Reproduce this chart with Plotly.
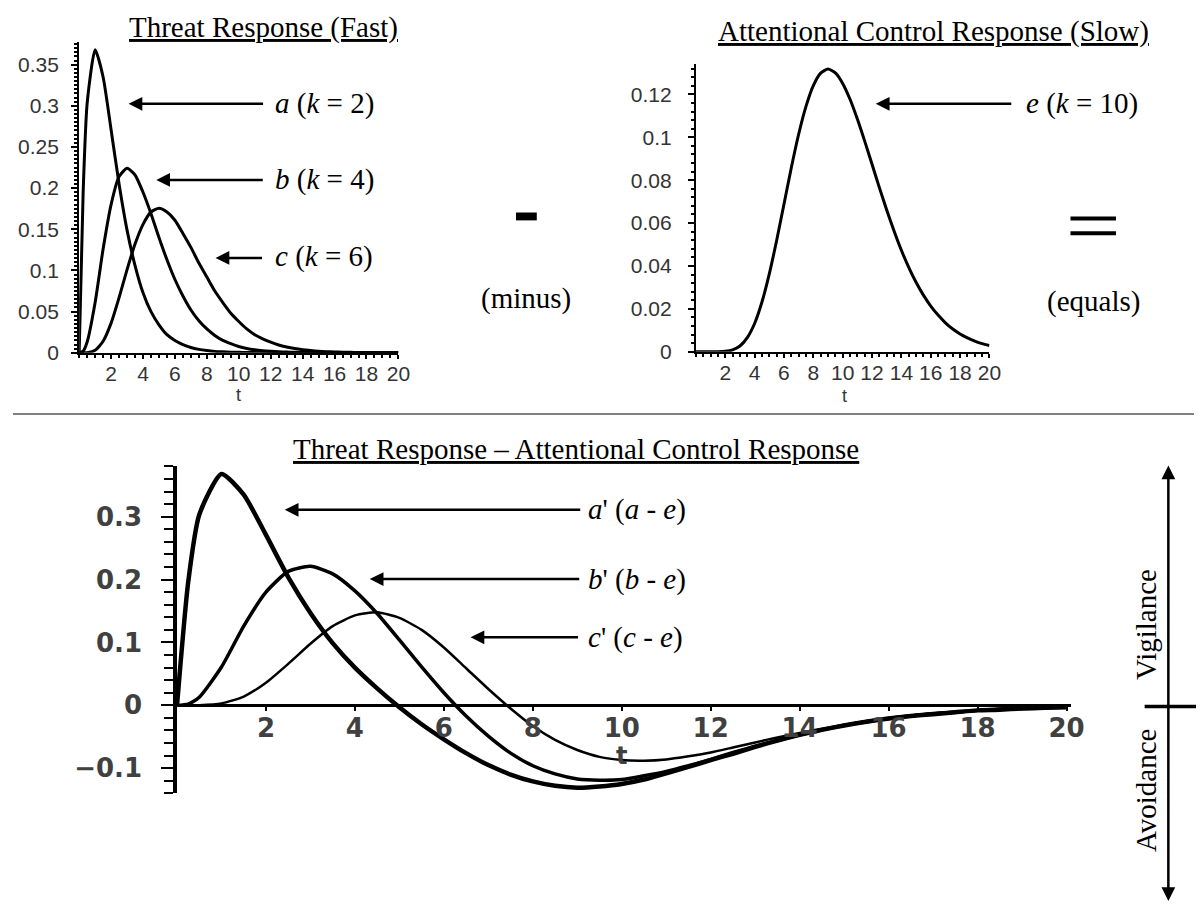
import plotly.graph_objects as go

# ---------------- data ----------------
t = [0, 0.25, 0.5, 1, 1.5, 2, 2.5, 3, 3.5, 4, 4.5, 5, 5.5, 6, 6.5, 7, 7.5, 8, 8.5, 9, 9.5,
     10, 10.5, 11, 11.5, 12, 12.5, 13, 13.5, 14, 14.5, 15, 15.5, 16, 16.5, 17, 17.5, 18,
     18.5, 19, 19.5, 20]

a_k2 = [0, 0.195, 0.303, 0.368, 0.335, 0.271, 0.205, 0.149, 0.106, 0.073, 0.050, 0.034,
        0.022, 0.015, 0.010, 0.0064, 0.0041, 0.0027, 0.0017, 0.0011, 0.0007, 0.0005, 0.0003,
        0.0002, 0.0001, 0.0001, 0, 0, 0, 0, 0, 0, 0, 0, 0, 0, 0, 0, 0, 0, 0, 0]
b_k4 = [0, 0.002, 0.013, 0.061, 0.126, 0.180, 0.214, 0.224, 0.216, 0.195, 0.169, 0.140,
        0.113, 0.089, 0.069, 0.052, 0.039, 0.029, 0.021, 0.015, 0.011, 0.0076, 0.0053,
        0.0037, 0.0026, 0.0018, 0.0012, 0.0008, 0.0006, 0.0004, 0.0003, 0.0002, 0.0001,
        0.0001, 0, 0, 0, 0, 0, 0, 0, 0]
c_k6 = [0, 0, 0.0002, 0.0031, 0.014, 0.036, 0.067, 0.101, 0.132, 0.156, 0.171, 0.1755,
        0.171, 0.161, 0.145, 0.128, 0.109, 0.092, 0.075, 0.061, 0.048, 0.038, 0.029, 0.022,
        0.017, 0.013, 0.0095, 0.0070, 0.0051, 0.0037, 0.0027, 0.0019, 0.0014, 0.0010,
        0.0007, 0.0005, 0.0003, 0.0002, 0.0002, 0.0001, 0.0001, 0.0001]
e_k10 = [0, 0, 0, 0, 0, 0.0002, 0.0009, 0.0027, 0.0066, 0.0132, 0.0232, 0.0363, 0.0519,
         0.0688, 0.0858, 0.1014, 0.1144, 0.1241, 0.1299, 0.1318, 0.1300, 0.1251, 0.1177,
         0.1085, 0.0982, 0.0874, 0.0765, 0.0661, 0.0563, 0.0473, 0.0394, 0.0324, 0.0264,
         0.0213, 0.0171, 0.0135, 0.0106, 0.0083, 0.0065, 0.0050, 0.0038, 0.0029]

a_minus_e = [0, 0.195, 0.303, 0.368, 0.335, 0.271, 0.204, 0.147, 0.099, 0.060, 0.027,
             -0.003, -0.030, -0.054, -0.076, -0.095, -0.110, -0.121, -0.128, -0.131,
             -0.129, -0.125, -0.118, -0.108, -0.098, -0.087, -0.077, -0.066, -0.056,
             -0.047, -0.039, -0.032, -0.026, -0.021, -0.017, -0.014, -0.011, -0.008,
             -0.007, -0.005, -0.004, -0.003]
b_minus_e = [0, 0.002, 0.013, 0.061, 0.126, 0.180, 0.213, 0.221, 0.209, 0.182, 0.146,
             0.104, 0.061, 0.020, -0.017, -0.049, -0.076, -0.096, -0.109, -0.117, -0.119,
             -0.118, -0.112, -0.105, -0.096, -0.086, -0.075, -0.065, -0.056, -0.047,
             -0.039, -0.032, -0.026, -0.021, -0.017, -0.013, -0.011, -0.008, -0.006,
             -0.005, -0.004, -0.003]
c_minus_e = [0, 0, 0.0002, 0.003, 0.014, 0.036, 0.066, 0.098, 0.126, 0.143, 0.148, 0.139,
             0.120, 0.092, 0.059, 0.026, -0.005, -0.033, -0.055, -0.071, -0.082, -0.087,
             -0.088, -0.086, -0.081, -0.075, -0.067, -0.059, -0.051, -0.044, -0.037,
             -0.031, -0.025, -0.020, -0.016, -0.013, -0.010, -0.008, -0.006, -0.005,
             -0.004, -0.003]

x_ticks = [2, 4, 6, 8, 10, 12, 14, 16, 18, 20]
fast_yticks = [0, 0.05, 0.1, 0.15, 0.2, 0.25, 0.3, 0.35]
slow_yticks = [0, 0.02, 0.04, 0.06, 0.08, 0.1, 0.12]
diff_yticks = [-0.1, 0, 0.1, 0.2, 0.3]

# ---------------- layout helpers ----------------
W, H = 1204, 909


def px(x):
    return x / W


def py(y):
    return 1 - y / H


SERIF = "Liberation Serif, Times New Roman, serif"
SANS = "Liberation Sans, Arial, sans-serif"
WIDE = "DejaVu Sans, Verdana, sans-serif"

fig = go.Figure()

line_top = dict(color="black", width=3, shape="spline", smoothing=0.6)
for ys in (a_k2, b_k4, c_k6):
    fig.add_trace(go.Scatter(x=t, y=ys, mode="lines", line=line_top,
                             xaxis="x", yaxis="y", showlegend=False))
fig.add_trace(go.Scatter(x=t, y=e_k10, mode="lines", line=line_top,
                         xaxis="x2", yaxis="y2", showlegend=False))
for ys, w in ((a_minus_e, 4.5), (b_minus_e, 3.5), (c_minus_e, 2.5)):
    fig.add_trace(go.Scatter(x=t, y=ys, mode="lines",
                             line=dict(color="black", width=w, shape="spline", smoothing=0.6),
                             xaxis="x3", yaxis="y3", showlegend=False))

small_font = dict(family=SANS, size=21, color="#333333")
big_font = dict(family=WIDE, size=26, color="#404040", weight="bold")

common_x = dict(range=[0, 20], tickmode="array", tickvals=x_ticks, showgrid=False,
                zeroline=False, showline=True, linecolor="black", ticks="outside",
                tickcolor="black", fixedrange=True)

fig.update_layout(
    width=W, height=H, margin=dict(l=0, r=0, t=0, b=0),
    paper_bgcolor="white", plot_bgcolor="rgba(0,0,0,0)",
    xaxis=dict(common_x, domain=[px(72), px(395)], anchor="y", linewidth=2,
               ticklen=4, tickwidth=1.5, tickfont=small_font, ticklabelstandoff=-3,
               minor=dict(tickmode="linear", tick0=0, dtick=0.5, ticks="outside",
                          ticklen=3, tickcolor="black")),
    yaxis=dict(range=[0, 0.378], domain=[py(349), py(34)], anchor="x",
               tickmode="array", tickvals=fast_yticks, showgrid=False, zeroline=False,
               showline=True, linecolor="black", linewidth=2, ticks="outside",
               ticklen=6, tickwidth=1.5, tickcolor="black", tickfont=small_font,
               ticklabelstandoff=8,
               minor=dict(tickmode="linear", tick0=0, dtick=0.005, ticks="outside",
                          ticklen=3, tickcolor="black")),
    xaxis2=dict(common_x, domain=[px(696), px(993)], anchor="y2", linewidth=2,
                ticklen=4, tickwidth=1.5, tickfont=small_font, ticklabelstandoff=-3,
                minor=dict(tickmode="linear", tick0=0, dtick=0.5, ticks="outside",
                           ticklen=3, tickcolor="black")),
    yaxis2=dict(range=[0, 0.134], domain=[py(348), py(57)], anchor="x2",
                tickmode="array", tickvals=slow_yticks, showgrid=False, zeroline=False,
                showline=True, linecolor="black", linewidth=2, ticks="outside",
                ticklen=6, tickwidth=1.5, tickcolor="black", tickfont=small_font,
                ticklabelstandoff=12,
                minor=dict(tickmode="linear", tick0=0, dtick=0.004, ticks="outside",
                           ticklen=3, tickcolor="black")),
    xaxis3=dict(common_x, domain=[px(171), px(1075)], anchor="free", position=py(706),
                range=[0, 20.09], linewidth=2.5, ticklen=4, tickwidth=2,
                tickfont=big_font, ticklabelstandoff=-5),
    yaxis3=dict(range=[-0.14, 0.38], domain=[py(795), py(464)], anchor="x3",
                tickmode="array", tickvals=diff_yticks, showgrid=False, zeroline=False,
                showline=True, linecolor="black", linewidth=3.5, ticks="outside",
                ticklen=12, tickwidth=2, tickcolor="black", tickfont=big_font,
                ticklabelstandoff=14,
                minor=dict(tickmode="linear", tick0=0, dtick=0.02, ticks="outside",
                           ticklen=9, tickwidth=2, tickcolor="black")),
)

annotations = []


def text_ann(txt, x, y, size=29, xanchor="left", angle=0, family=SERIF, color="black"):
    annotations.append(dict(text=txt, x=px(x), y=py(y), xref="paper", yref="paper",
                            showarrow=False, xanchor=xanchor, yanchor="middle",
                            textangle=angle,
                            font=dict(family=family, size=size, color=color)))


def arrow_ann(head_x, tail_x, y):
    annotations.append(dict(text="", x=px(head_x), y=py(y), xref="paper", yref="paper",
                            showarrow=True, ax=tail_x - head_x, ay=0, arrowhead=2,
                            arrowsize=1.1, arrowwidth=2.5, arrowcolor="black"))


# axis titles "t"
text_ann("t", 233, 392, size=18, xanchor="center", family=SANS, color="#333333")
text_ann("t", 846, 393, size=18, xanchor="center", family=SANS, color="#333333")
text_ann("<b>t</b>", 621, 757, size=24, xanchor="center", family=WIDE, color="#404040")

# titles
text_ann("<u>Threat Response (Fast)</u>", 258, 20, size=29, xanchor="center")
text_ann("<u>Attentional Control Response (Slow)</u>", 936, 24, size=29, xanchor="center")
text_ann("<u>Threat Response – Attentional Control Response</u>", 575, 446, size=29,
         xanchor="center")

# top-left labels
text_ann("<i>a</i> (<i>k</i> = 2)", 268, 97)
text_ann("<i>b</i> (<i>k</i> = 4)", 268, 174)
text_ann("<i>c</i> (<i>k</i> = 6)", 268, 252)
arrow_ann(122, 258, 97)
arrow_ann(150, 258, 174)
arrow_ann(210, 258, 253)

# top-right label
text_ann("<i>e</i> (<i>k</i> = 10)", 1028, 97)
arrow_ann(878, 1015, 97)

# operators
text_ann("(minus)", 524, 294, size=29, xanchor="center")
text_ann("(equals)", 1098, 297, size=29, xanchor="center")

# bottom labels
text_ann("<i>a</i>' (<i>a</i> - <i>e</i>)", 585, 508)
text_ann("<i>b</i>' (<i>b</i> - <i>e</i>)", 585, 578)
text_ann("<i>c</i>' (<i>c</i> - <i>e</i>)", 585, 637)
arrow_ann(280, 577, 508)
arrow_ann(366, 577, 578)
arrow_ann(468, 577, 637)

# Vigilance / Avoidance
text_ann("Vigilance", 1152, 624, size=29, xanchor="center", angle=-90)
text_ann("Avoidance", 1152, 792, size=29, xanchor="center", angle=-90)
annotations.append(dict(text="", x=px(1174), y=py(463), xref="paper", yref="paper",
                        showarrow=True, ax=0, ay=437, arrowhead=2, arrowside="end+start",
                        arrowsize=1.1, arrowwidth=2.5, arrowcolor="black"))

fig.update_layout(annotations=annotations)

shapes = [
    # separator
    dict(type="line", xref="paper", yref="paper", x0=px(5), x1=px(1200), y0=py(411),
         y1=py(411), line=dict(color="#808080", width=2)),
    # minus sign
    dict(type="rect", xref="paper", yref="paper", x0=px(514), x1=px(535), y0=py(207),
         y1=py(215), fillcolor="black", line=dict(width=0)),
    # equals sign
    dict(type="line", xref="paper", yref="paper", x0=px(1075), x1=px(1121), y0=py(213),
         y1=py(213), line=dict(color="black", width=4)),
    dict(type="line", xref="paper", yref="paper", x0=px(1075), x1=px(1121), y0=py(228),
         y1=py(228), line=dict(color="black", width=4)),
    # cross bar at zero of vigilance/avoidance arrow
    dict(type="line", xref="paper", yref="paper", x0=px(1150), x1=px(1202), y0=py(707),
         y1=py(707), line=dict(color="black", width=3.5)),
]
fig.update_layout(shapes=shapes)

fig.write_html("out.html")
